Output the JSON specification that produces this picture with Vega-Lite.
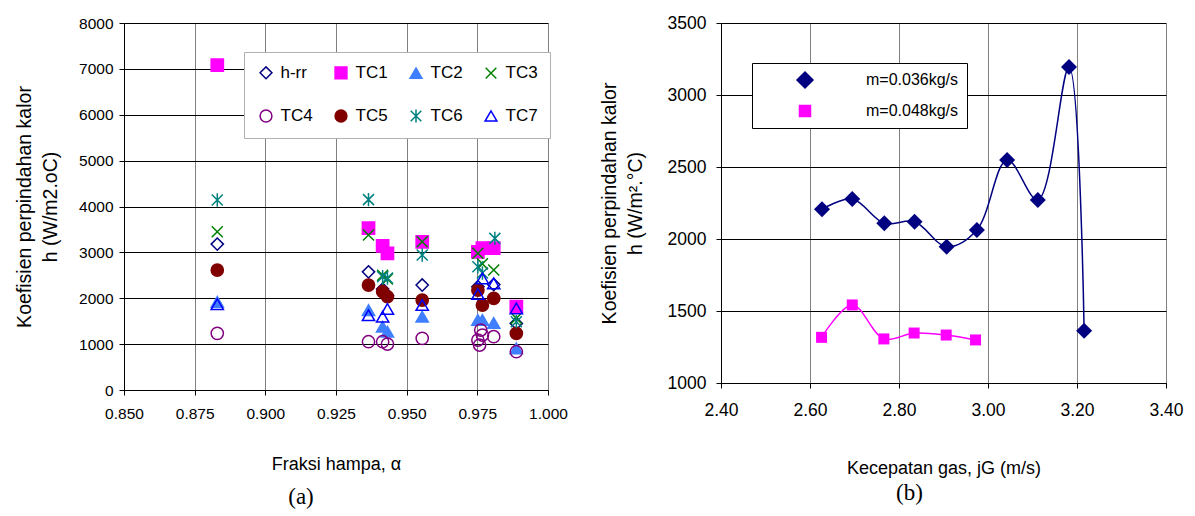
{
  "$schema": "https://vega.github.io/schema/vega-lite/v6.json",
  "background": "white",
  "padding": {"left": 14, "top": 14, "right": 5, "bottom": 0},
  "spacing": 31,
  "resolve": {
    "scale": {"color": "independent", "shape": "independent", "size": "independent", "fill": "independent", "stroke": "independent"},
    "legend": {"color": "independent", "shape": "independent", "size": "independent", "fill": "independent", "stroke": "independent"}
  },
  "config": {
    "view": {"stroke": null},
    "axis": {
      "labelFont": "Liberation Sans",
      "titleFont": "Liberation Sans",
      "labelColor": "#000",
      "titleColor": "#000",
      "titleFontWeight": "normal",
      "domainColor": "#000",
      "tickColor": "#000",
      "tickSize": 5,
      "gridOpacity": 1,
      "labelFlush": false,
      "labelOverlap": false
    }
  },
  "hconcat": [
    {
      "width": 424,
      "height": 367,
      "title": {"text": "(a)", "orient": "bottom", "font": "Liberation Serif", "fontSize": 23, "fontWeight": "normal", "color": "#000", "dx": -35, "offset": 12},
      "data": {
        "values": [
          {"series": "h-rr", "alpha": 0.8830, "h": 3180},
          {"series": "h-rr", "alpha": 0.9365, "h": 2575},
          {"series": "h-rr", "alpha": 0.9415, "h": 2200},
          {"series": "h-rr", "alpha": 0.9432, "h": 2060},
          {"series": "h-rr", "alpha": 0.9555, "h": 2288},
          {"series": "h-rr", "alpha": 0.9752, "h": 2250},
          {"series": "h-rr", "alpha": 0.9808, "h": 2300},
          {"series": "h-rr", "alpha": 0.9888, "h": 1452},
          {"series": "TC1", "alpha": 0.8830, "h": 7080},
          {"series": "TC1", "alpha": 0.9365, "h": 3530},
          {"series": "TC1", "alpha": 0.9415, "h": 3140},
          {"series": "TC1", "alpha": 0.9432, "h": 2980},
          {"series": "TC1", "alpha": 0.9555, "h": 3230},
          {"series": "TC1", "alpha": 0.9752, "h": 3010},
          {"series": "TC1", "alpha": 0.9768, "h": 3090},
          {"series": "TC1", "alpha": 0.9808, "h": 3090},
          {"series": "TC1", "alpha": 0.9888, "h": 1815},
          {"series": "TC2", "alpha": 0.8830, "h": 1920},
          {"series": "TC2", "alpha": 0.9365, "h": 1740},
          {"series": "TC2", "alpha": 0.9415, "h": 1380},
          {"series": "TC2", "alpha": 0.9432, "h": 1270},
          {"series": "TC2", "alpha": 0.9555, "h": 1597},
          {"series": "TC2", "alpha": 0.9752, "h": 1525},
          {"series": "TC2", "alpha": 0.9768, "h": 1525},
          {"series": "TC2", "alpha": 0.9808, "h": 1460},
          {"series": "TC2", "alpha": 0.9888, "h": 908},
          {"series": "TC3", "alpha": 0.8830, "h": 3449},
          {"series": "TC3", "alpha": 0.9365, "h": 3377},
          {"series": "TC3", "alpha": 0.9415, "h": 2500},
          {"series": "TC3", "alpha": 0.9432, "h": 2420},
          {"series": "TC3", "alpha": 0.9555, "h": 3231},
          {"series": "TC3", "alpha": 0.9752, "h": 2980},
          {"series": "TC3", "alpha": 0.9768, "h": 2750},
          {"series": "TC3", "alpha": 0.9808, "h": 2614},
          {"series": "TC3", "alpha": 0.9888, "h": 1562},
          {"series": "TC4", "alpha": 0.8830, "h": 1235},
          {"series": "TC4", "alpha": 0.9365, "h": 1052},
          {"series": "TC4", "alpha": 0.9415, "h": 1052},
          {"series": "TC4", "alpha": 0.9432, "h": 1002},
          {"series": "TC4", "alpha": 0.9555, "h": 1126},
          {"series": "TC4", "alpha": 0.9752, "h": 1089},
          {"series": "TC4", "alpha": 0.9762, "h": 1307},
          {"series": "TC4", "alpha": 0.9758, "h": 980},
          {"series": "TC4", "alpha": 0.9768, "h": 1198},
          {"series": "TC4", "alpha": 0.9808, "h": 1162},
          {"series": "TC4", "alpha": 0.9888, "h": 834},
          {"series": "TC5", "alpha": 0.8830, "h": 2614},
          {"series": "TC5", "alpha": 0.9365, "h": 2288},
          {"series": "TC5", "alpha": 0.9415, "h": 2142},
          {"series": "TC5", "alpha": 0.9432, "h": 2033},
          {"series": "TC5", "alpha": 0.9555, "h": 1961},
          {"series": "TC5", "alpha": 0.9752, "h": 2179},
          {"series": "TC5", "alpha": 0.9768, "h": 1852},
          {"series": "TC5", "alpha": 0.9808, "h": 1998},
          {"series": "TC5", "alpha": 0.9888, "h": 1235},
          {"series": "TC6", "alpha": 0.8830, "h": 4140},
          {"series": "TC6", "alpha": 0.9365, "h": 4150},
          {"series": "TC6", "alpha": 0.9415, "h": 2469},
          {"series": "TC6", "alpha": 0.9432, "h": 2440},
          {"series": "TC6", "alpha": 0.9555, "h": 2941},
          {"series": "TC6", "alpha": 0.9752, "h": 2686},
          {"series": "TC6", "alpha": 0.9768, "h": 2550},
          {"series": "TC6", "alpha": 0.9812, "h": 3305},
          {"series": "TC6", "alpha": 0.9888, "h": 1488},
          {"series": "TC7", "alpha": 0.8830, "h": 1870},
          {"series": "TC7", "alpha": 0.9365, "h": 1630},
          {"series": "TC7", "alpha": 0.9415, "h": 1597},
          {"series": "TC7", "alpha": 0.9432, "h": 1765},
          {"series": "TC7", "alpha": 0.9555, "h": 1852},
          {"series": "TC7", "alpha": 0.9752, "h": 2092},
          {"series": "TC7", "alpha": 0.9768, "h": 2434},
          {"series": "TC7", "alpha": 0.9808, "h": 2324},
          {"series": "TC7", "alpha": 0.9888, "h": 1780}
        ]
      },
      "mark": {"type": "point", "strokeWidth": 1.5, "opacity": 1, "size": 150},
      "encoding": {
        "x": {
          "field": "alpha", "type": "quantitative",
          "scale": {"domain": [0.85, 1.0], "nice": false, "zero": false},
          "axis": {"values": [0.85, 0.875, 0.9, 0.925, 0.95, 0.975, 1.0], "format": ".3f", "title": "Fraksi hampa, α", "titleFontSize": 18, "labelFontSize": 15.5, "labelPadding": 11, "titlePadding": 34, "gridColor": "#808080"}
        },
        "y": {
          "field": "h", "type": "quantitative",
          "scale": {"domain": [0, 8000], "nice": false},
          "axis": {"values": [0, 1000, 2000, 3000, 4000, 5000, 6000, 7000, 8000], "format": "d", "title": ["Koefisien perpindahan kalor", "h (W/m2.oC)"], "titleFontSize": 19.5, "titleLineHeight": 26, "labelFontSize": 15.5, "labelPadding": 6, "titlePadding": 18, "gridColor": "#000"}
        },
        "shape": {
          "field": "series", "type": "nominal",
          "scale": {"domain": ["h-rr", "TC1", "TC2", "TC3", "TC4", "TC5", "TC6", "TC7"], "range": ["diamond", "square", "triangle-up", "M-0.9,-0.9L0.9,0.9M-0.9,0.9L0.9,-0.9", "circle", "circle", "M-0.9,-0.9L0.9,0.9M-0.9,0.9L0.9,-0.9M0,-1.1L0,1.1", "triangle-up"]},
          "legend": {"title": null, "orient": "none", "direction": "horizontal", "legendX": 120, "legendY": 29, "columns": 4, "gridAlign": "all", "columnPadding": 17, "rowPadding": 23, "padding": 11.5, "symbolOffset": 2, "labelOffset": 6, "labelFontSize": 17, "labelFont": "Liberation Sans", "labelColor": "#000", "symbolSize": 140, "symbolStrokeWidth": 1.5, "fillColor": "white", "strokeColor": "#b0b0b0"}
        },
        "fill": {
          "field": "series", "type": "nominal",
          "scale": {"domain": ["h-rr", "TC1", "TC2", "TC3", "TC4", "TC5", "TC6", "TC7"], "range": ["transparent", "#FF00FF", "#3F7FFF", "transparent", "transparent", "#800000", "transparent", "transparent"]},
          "legend": {"title": null, "orient": "none", "direction": "horizontal", "legendX": 120, "legendY": 29, "columns": 4, "gridAlign": "all", "columnPadding": 17, "rowPadding": 23, "padding": 11.5, "symbolOffset": 2, "labelOffset": 6, "labelFontSize": 17, "labelFont": "Liberation Sans", "labelColor": "#000", "symbolSize": 140, "symbolStrokeWidth": 1.5, "fillColor": "white", "strokeColor": "#b0b0b0"}
        },
        "stroke": {
          "field": "series", "type": "nominal",
          "scale": {"domain": ["h-rr", "TC1", "TC2", "TC3", "TC4", "TC5", "TC6", "TC7"], "range": ["#000080", "#FF00FF", "#3F7FFF", "#008000", "#800080", "#800000", "#008080", "#0000FF"]},
          "legend": {"title": null, "orient": "none", "direction": "horizontal", "legendX": 120, "legendY": 29, "columns": 4, "gridAlign": "all", "columnPadding": 17, "rowPadding": 23, "padding": 11.5, "symbolOffset": 2, "labelOffset": 6, "labelFontSize": 17, "labelFont": "Liberation Sans", "labelColor": "#000", "symbolSize": 140, "symbolStrokeWidth": 1.5, "fillColor": "white", "strokeColor": "#b0b0b0"}
        }
      }
    },
    {
      "width": 445,
      "height": 360,
      "title": {"text": "(b)", "orient": "bottom", "font": "Liberation Serif", "fontSize": 23, "fontWeight": "normal", "color": "#000", "dx": -34, "offset": 4},
      "data": {
        "values": [
          {"series": "m=0.036kg/s", "jG": 2.627, "h": 2206},
          {"series": "m=0.036kg/s", "jG": 2.695, "h": 2278},
          {"series": "m=0.036kg/s", "jG": 2.767, "h": 2109},
          {"series": "m=0.036kg/s", "jG": 2.835, "h": 2120},
          {"series": "m=0.036kg/s", "jG": 2.907, "h": 1947},
          {"series": "m=0.036kg/s", "jG": 2.975, "h": 2063},
          {"series": "m=0.036kg/s", "jG": 3.043, "h": 2549},
          {"series": "m=0.036kg/s", "jG": 3.112, "h": 2271},
          {"series": "m=0.036kg/s", "jG": 3.182, "h": 3194},
          {"series": "m=0.036kg/s", "jG": 3.216, "h": 1363},
          {"series": "m=0.048kg/s", "jG": 2.626, "h": 1317},
          {"series": "m=0.048kg/s", "jG": 2.695, "h": 1542},
          {"series": "m=0.048kg/s", "jG": 2.766, "h": 1306},
          {"series": "m=0.048kg/s", "jG": 2.834, "h": 1347},
          {"series": "m=0.048kg/s", "jG": 2.906, "h": 1333},
          {"series": "m=0.048kg/s", "jG": 2.972, "h": 1299}
        ]
      },
      "encoding": {
        "x": {
          "field": "jG", "type": "quantitative",
          "scale": {"domain": [2.4, 3.4], "nice": false, "zero": false},
          "axis": {"values": [2.4, 2.6, 2.8, 3.0, 3.2, 3.4], "format": ".2f", "title": "Kecepatan gas, jG (m/s)", "titleFontSize": 18, "labelFontSize": 17.5, "labelPadding": 13, "titlePadding": 41, "gridColor": "#808080"}
        },
        "y": {
          "field": "h", "type": "quantitative",
          "scale": {"domain": [1000, 3500], "nice": false, "zero": false},
          "axis": {"values": [1000, 1500, 2000, 2500, 3000, 3500], "format": "d", "title": ["Koefisien perpindahan kalor", "h (W/m².°C)"], "titleFontSize": 19.5, "titleLineHeight": 26, "labelFontSize": 17.5, "labelPadding": 10, "titlePadding": 22, "gridColor": "#000"}
        }
      },
      "layer": [
        {
          "mark": {"type": "line", "interpolate": "catmull-rom", "strokeWidth": 1.5},
          "encoding": {
            "color": {
              "field": "series", "type": "nominal",
              "scale": {"domain": ["m=0.036kg/s", "m=0.048kg/s"], "range": ["#000080", "#FF00FF"]},
              "legend": {"title": null, "orient": "none", "legendX": 31, "legendY": 40, "padding": 8, "rowPadding": 11, "symbolOffset": 36, "labelOffset": 52, "labelFontSize": 16, "labelFont": "Liberation Sans", "labelColor": "#000", "labelExpr": "datum.label + '       '", "symbolStrokeWidth": 1.5, "fillColor": "white", "strokeColor": "#000"}
            }
          }
        },
        {
          "mark": {"type": "point", "filled": true, "opacity": 1},
          "encoding": {
            "color": {
              "field": "series", "type": "nominal",
              "scale": {"domain": ["m=0.036kg/s", "m=0.048kg/s"], "range": ["#000080", "#FF00FF"]},
              "legend": {"title": null, "orient": "none", "legendX": 31, "legendY": 40, "padding": 8, "rowPadding": 11, "symbolOffset": 36, "labelOffset": 52, "labelFontSize": 16, "labelFont": "Liberation Sans", "labelColor": "#000", "labelExpr": "datum.label + '       '", "symbolStrokeWidth": 1.5, "fillColor": "white", "strokeColor": "#000"}
            },
            "shape": {
              "field": "series", "type": "nominal",
              "scale": {"domain": ["m=0.036kg/s", "m=0.048kg/s"], "range": ["diamond", "square"]},
              "legend": {"title": null, "orient": "none", "legendX": 31, "legendY": 40, "padding": 8, "rowPadding": 11, "symbolOffset": 36, "labelOffset": 52, "labelFontSize": 16, "labelFont": "Liberation Sans", "labelColor": "#000", "labelExpr": "datum.label + '       '", "symbolStrokeWidth": 1.5, "fillColor": "white", "strokeColor": "#000"}
            },
            "size": {
              "field": "series", "type": "nominal",
              "scale": {"domain": ["m=0.036kg/s", "m=0.048kg/s"], "range": [256, 121]},
              "legend": {"title": null, "orient": "none", "legendX": 31, "legendY": 40, "padding": 8, "rowPadding": 11, "symbolOffset": 36, "labelOffset": 52, "labelFontSize": 16, "labelFont": "Liberation Sans", "labelColor": "#000", "labelExpr": "datum.label + '       '", "symbolStrokeWidth": 1.5, "fillColor": "white", "strokeColor": "#000"}
            }
          }
        }
      ]
    }
  ]
}
